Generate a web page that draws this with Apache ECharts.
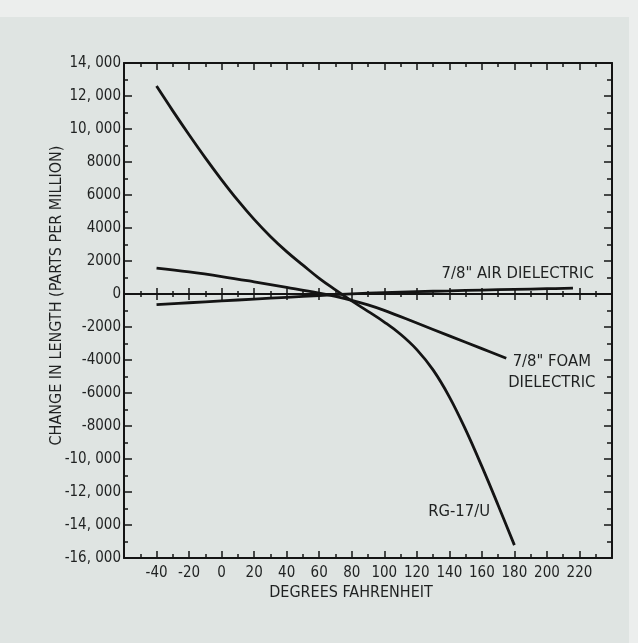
<!DOCTYPE html>
<html>
<head>
<meta charset="utf-8">
<script src="https://cdn.jsdelivr.net/npm/echarts@6/dist/echarts.min.js"></script>
<style>
  html, body { margin: 0; padding: 0; background: #dfe4e2; }
  #chart { width: 638px; height: 643px; }
</style>
</head>
<body>
<div id="chart"></div>
<script>
// ---- data (degrees Fahrenheit, change in length in parts per million) ----
const rgTemps   = [-40, -30, -20, -10, 0, 10, 20, 30, 40, 50, 60, 70, 80, 90, 100, 110, 120, 130, 140, 150, 160, 170, 180];
const rgValues  = [12600, 11100, 9650, 8250, 6920, 5670, 4520, 3490, 2570, 1750, 950, 250, -420, -1050, -1700, -2440, -3370, -4600, -6230, -8220, -10450, -12800, -15220];

const foamTemps  = [-40, -20, 0, 20, 40, 60, 70, 80, 90, 100, 120, 140, 160, 175];
const foamValues = [1570, 1340, 1060, 740, 400, 50, -150, -380, -660, -990, -1760, -2535, -3310, -3890];

const airTemps  = [-40, -20, 0, 20, 40, 60, 80, 100, 120, 140, 160, 180, 200, 216];
const airValues = [-650, -530, -420, -310, -200, -90, 10, 80, 140, 190, 240, 280, 320, 350];

const seriesNames = ['RG-17/U', '7/8" FOAM DIELECTRIC', '7/8" AIR DIELECTRIC'];

// curve annotations: text and their anchor in data space (deg F, ppm)
const noteTexts = ['7/8" AIR DIELECTRIC', '7/8" FOAM\nDIELECTRIC', 'RG-17/U'];
const noteTemps = [182, 203, 146];
const noteValues = [1220, -4730, -13170];

const xTickLabels = [-40, -20, 0, 20, 40, 60, 80, 100, 120, 140, 160, 180, 200, 220];
const xTitle = 'DEGREES FAHRENHEIT';
const yTitle = 'CHANGE IN LENGTH (PARTS PER MILLION)';

// ---- helpers ----
function pairs(xs, ys) { return xs.map((x, i) => [x, ys[i]]); }
function fmtY(v) {
  const a = Math.abs(v);
  let s = a >= 10000 ? Math.floor(a / 1000) + ', ' + String(a % 1000).padStart(3, '0') : String(a);
  return (v < 0 ? '-' : '') + s;
}

const FONT = '"Liberation Sans Narrow", "DejaVu Sans Condensed", "Liberation Sans", sans-serif';
const INK = '#141414';
const TXT = '#1f2121';

const chart = echarts.init(document.getElementById('chart'), null, { renderer: 'canvas' });

const X_MIN = -60, X_MAX = 240, Y_MIN = -16000, Y_MAX = 14000;

const baseX = {
  type: 'value', min: X_MIN, max: X_MAX, interval: 20,
  splitLine: { show: false },
  axisLine: { show: true, onZero: false, lineStyle: { color: INK, width: 2 } },
  axisTick: { show: true, inside: true, length: 7, lineStyle: { color: INK, width: 1.5 } },
  minorTick: { show: true, splitNumber: 2, length: 4, lineStyle: { color: INK, width: 1.5 } },
  axisLabel: { show: false }
};

const option = {
  backgroundColor: '#dfe4e2',
  animation: false,
  grid: { left: 124, right: 26, top: 63, bottom: 85, containLabel: false },
  xAxis: [
    Object.assign({}, baseX, {
      position: 'bottom',
      axisLabel: {
        show: true, margin: 8, color: TXT, fontFamily: FONT, fontSize: 15,
        formatter: v => (xTickLabels.indexOf(v) >= 0 ? String(v) : '')
      },
      name: xTitle, nameLocation: 'middle', nameGap: 27, nameMoveOverlap: false,
      nameTextStyle: { color: TXT, fontFamily: FONT, fontSize: 16, padding: [0, 34, 0, 0] }
    }),
    Object.assign({}, baseX, { position: 'top' }),
    // zero line: ticks on both sides
    Object.assign({}, baseX, {
      position: 'bottom',
      axisLine: { show: true, onZero: true, onZeroAxisIndex: 0, lineStyle: { color: INK, width: 2 } },
      axisTick: { show: true, inside: true, length: 6, lineStyle: { color: INK, width: 1.5 } },
      minorTick: { show: true, splitNumber: 2, length: 3, lineStyle: { color: INK, width: 1.5 } }
    }),
    Object.assign({}, baseX, {
      position: 'bottom',
      axisLine: { show: true, onZero: true, onZeroAxisIndex: 0, lineStyle: { color: INK, width: 2 } },
      axisTick: { show: true, inside: false, length: 6, lineStyle: { color: INK, width: 1.5 } },
      minorTick: { show: true, splitNumber: 2, length: 3, lineStyle: { color: INK, width: 1.5 } }
    })
  ],
  yAxis: [
    {
      type: 'value', min: Y_MIN, max: Y_MAX, interval: 2000, position: 'left',
      splitLine: { show: false },
      axisLine: { show: true, onZero: false, lineStyle: { color: INK, width: 2 } },
      axisTick: { show: true, inside: true, length: 8, lineStyle: { color: INK, width: 1.5 } },
      minorTick: { show: true, splitNumber: 2, length: 4, lineStyle: { color: INK, width: 1.5 } },
      axisLabel: { show: true, margin: 3, color: TXT, fontFamily: FONT, fontSize: 15, formatter: fmtY },
      name: yTitle, nameLocation: 'middle', nameGap: 59, nameRotate: 90, nameMoveOverlap: false,
      nameTextStyle: { color: TXT, fontFamily: FONT, fontSize: 16, padding: [0, 0, 0, 30] }
    },
    {
      type: 'value', min: Y_MIN, max: Y_MAX, interval: 2000, position: 'right',
      splitLine: { show: false },
      axisLine: { show: true, onZero: false, lineStyle: { color: INK, width: 2 } },
      axisTick: { show: true, inside: true, length: 8, lineStyle: { color: INK, width: 1.5 } },
      minorTick: { show: true, splitNumber: 2, length: 5, lineStyle: { color: INK, width: 1.5 } },
      axisLabel: { show: false }
    }
  ],
  series: [
    { name: seriesNames[0], type: 'line', data: pairs(rgTemps, rgValues), smooth: 0.4, showSymbol: false,
      lineStyle: { color: INK, width: 2.8 }, z: 5 },
    { name: seriesNames[1], type: 'line', data: pairs(foamTemps, foamValues), smooth: 0.4, showSymbol: false,
      lineStyle: { color: INK, width: 2.8 }, z: 5 },
    { name: seriesNames[2], type: 'line', data: pairs(airTemps, airValues), smooth: 0.4, showSymbol: false,
      lineStyle: { color: INK, width: 2.8 }, z: 5 }
  ]
};

chart.setOption(option);

// annotations placed through the chart's own coordinate system
const notes = noteTexts.map((t, i) => {
  const p = chart.convertToPixel({ xAxisIndex: 0, yAxisIndex: 0 }, [noteTemps[i], noteValues[i]]);
  return {
    type: 'text', x: p[0], y: p[1], z: 10,
    style: { text: t, fill: TXT, font: '16.5px ' + FONT, align: 'center', verticalAlign: 'middle', lineHeight: 21 }
  };
});
chart.setOption({
  graphic: [
    { type: 'rect', shape: { x: 0, y: 0, width: 638, height: 17 }, style: { fill: '#eceeed' }, z: -1, silent: true },
    { type: 'rect', shape: { x: 629, y: 0, width: 9, height: 643 }, style: { fill: '#eceeed' }, z: -1, silent: true }
  ].concat(notes)
});
</script>
</body>
</html>
